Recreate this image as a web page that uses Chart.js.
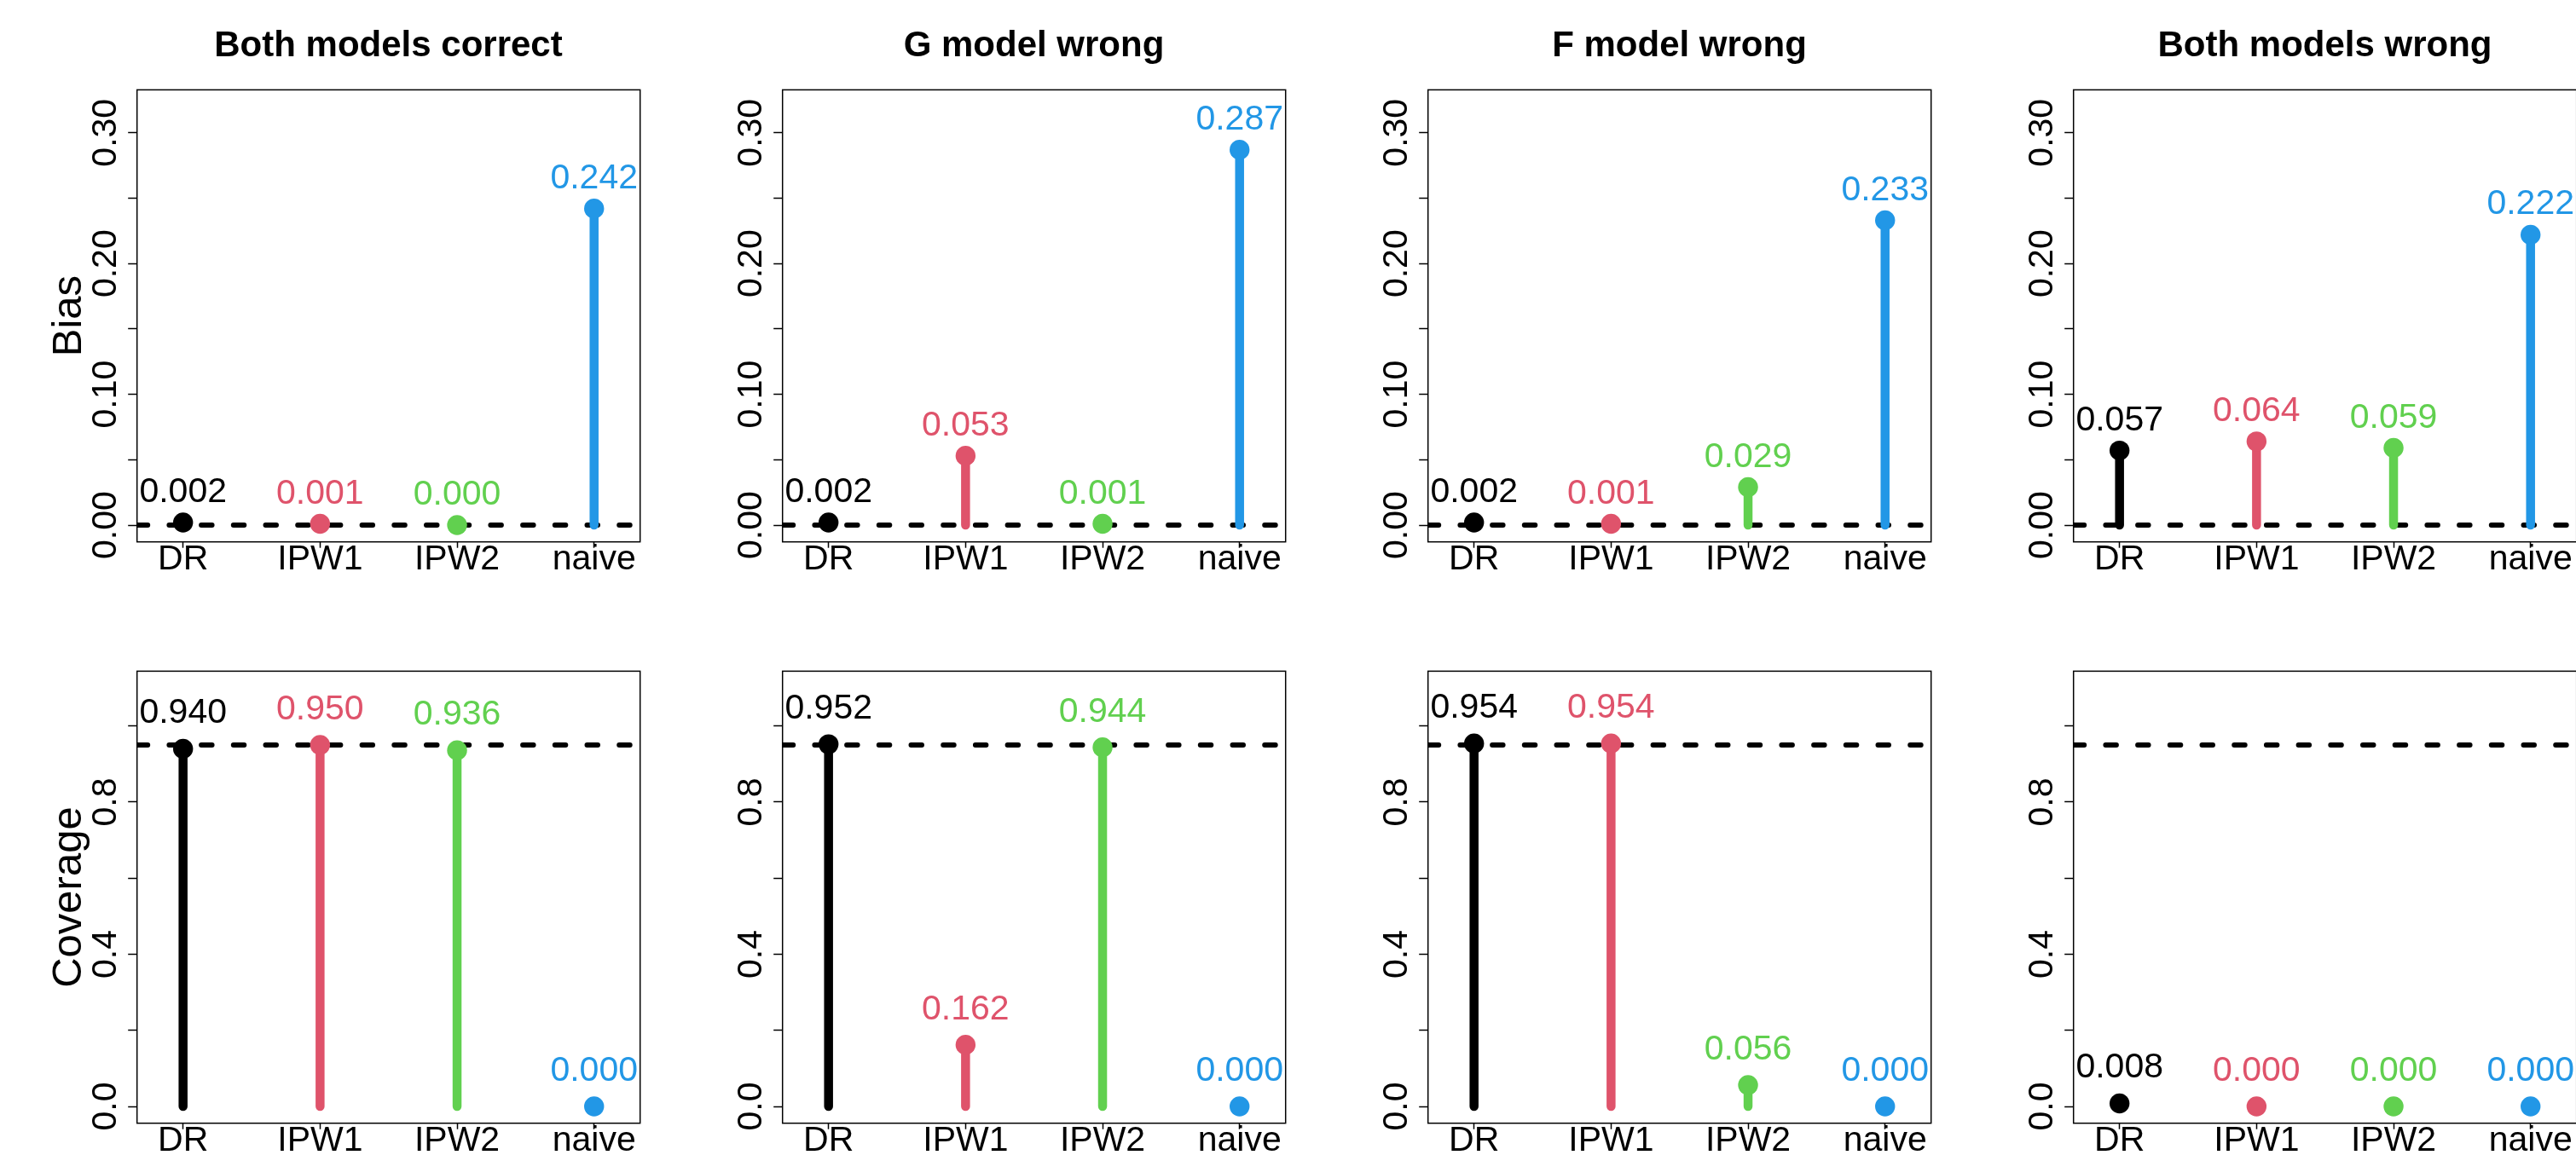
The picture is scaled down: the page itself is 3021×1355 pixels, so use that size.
<!DOCTYPE html>
<html>
<head>
<meta charset="utf-8">
<title>Bias and coverage</title>
<script src="https://cdn.jsdelivr.net/npm/chart.js@4.4.1/dist/chart.umd.min.js"></script>
<style>
  html, body { margin: 0; padding: 0; background: #fff; }
  #page { position: relative; width: 3021px; height: 1355px; overflow: hidden; background: #fff; }
  #page canvas { position: absolute; }
</style>
</head>
<body>
<div id="page"></div>
<script>
// panels and methods
const scenarios = ['Both models correct', 'G model wrong', 'F model wrong', 'Both models wrong'];
const methods = ['DR', 'IPW1', 'IPW2', 'naive'];
const methodColors = ['#000000', '#DF536B', '#61D04F', '#2297E6'];

// bias (top row)
const biasBothCorrect = [0.002, 0.001, 0.000, 0.242];
const biasGWrong      = [0.002, 0.053, 0.001, 0.287];
const biasFWrong      = [0.002, 0.001, 0.029, 0.233];
const biasBothWrong   = [0.057, 0.064, 0.059, 0.222];

// coverage (bottom row)
const covBothCorrect = [0.940, 0.950, 0.936, 0.000];
const covGWrong      = [0.952, 0.162, 0.944, 0.000];
const covFWrong      = [0.954, 0.954, 0.056, 0.000];
const covBothWrong   = [0.008, 0.000, 0.000, 0.000];

// axes
const biasTicks = [0, 0.1, 0.2, 0.3];
const biasTickLabels = ['0.00', '0.10', '0.20', '0.30'];
const covTicks = [0, 0.4, 0.8];
const covTickLabels = ['0.0', '0.4', '0.8'];
const biasRange = [0, 0.32];
const covRange = [0, 1.1];
const xRange = [0.8, 4.2];
const biasRef = 0;
const covRef = 0.95;

const FONT = "'Liberation Sans', Arial, Helvetica, sans-serif";
Chart.defaults.font.family = FONT;
Chart.defaults.color = '#000';

const PANEL_W = 757, ROW_H = 682, CANVAS_W = 911;
const BOX_LEFT = 160.7, BOX_RIGHT = 750.7, BOX_TOP = 105.4;

// R style axis limits (4% extension each side)
function extend(r) {
    const d = (r[1] - r[0]) * 0.04;
    return [r[0] - d, r[1] + d];
}

const rows = [
    { values: [biasBothCorrect, biasGWrong, biasFWrong, biasBothWrong], range: biasRange, step: 0.05,
      ticks: biasTicks, tickLabels: biasTickLabels, ref: biasRef, ylab: 'Bias', gap: 24, tickPad: -14.5, title: true },
    { values: [covBothCorrect, covGWrong, covFWrong, covBothWrong], range: covRange, step: 0.2,
      ticks: covTicks, tickLabels: covTickLabels, ref: covRef, ylab: 'Coverage', gap: 30, tickPad: -3.2, title: false }
];

// box around plot region + value labels above the points
const lollipopText = {
    id: 'lollipopText',
    afterDatasetsDraw(chart, args, opts) {
        const ctx = chart.ctx, a = chart.chartArea;
        const xs = chart.scales.x, ys = chart.scales.y;
        ctx.save();
        ctx.lineWidth = 1.5;
        ctx.strokeStyle = '#000';
        ctx.strokeRect(a.left, a.top, a.right - a.left, a.bottom - a.top);
        ctx.font = '41px ' + FONT;
        ctx.textAlign = 'center';
        ctx.textBaseline = 'alphabetic';
        opts.values.forEach((v, i) => {
            ctx.fillStyle = methodColors[i];
            ctx.fillText(v.toFixed(3), xs.getPixelForValue(i + 1), ys.getPixelForValue(v) - opts.gap);
        });
        ctx.restore();
    }
};

function makeChart(row, rowIdx, col) {
    const canvas = document.createElement('canvas');
    canvas.width = CANVAS_W;
    canvas.height = ROW_H;
    canvas.style.left = (col * PANEL_W) + 'px';
    canvas.style.top = (rowIdx * ROW_H) + 'px';
    canvas.style.width = CANVAS_W + 'px';
    canvas.style.height = ROW_H + 'px';
    document.getElementById('page').appendChild(canvas);

    const vals = row.values[col];
    const yLim = extend(row.range);
    const xLim = extend(xRange);

    const datasets = methods.map((m, i) => ({
        label: m,
        data: [{ x: i + 1, y: 0 }, { x: i + 1, y: vals[i] }],
        borderColor: methodColors[i],
        backgroundColor: methodColors[i],
        borderWidth: 10.5,
        borderCapStyle: 'round',
        pointRadius: [0, 11.7],
        pointHoverRadius: [0, 11.7],
        pointBorderWidth: 0,
        pointBackgroundColor: methodColors[i],
        fill: false,
        order: 1
    }));
    datasets.push({
        label: 'ref',
        data: [{ x: xLim[0], y: row.ref }, { x: xLim[1], y: row.ref }],
        borderColor: '#000',
        borderWidth: 6,
        borderDash: [12.5, 25.2],
        borderCapStyle: 'round',
        pointRadius: 0,
        fill: false,
        clip: 0,
        order: 2
    });

    const tickGrid = len => ({ drawOnChartArea: false, drawTicks: true, tickLength: len, tickWidth: 1.5, tickColor: '#000' });

    return new Chart(canvas.getContext('2d'), {
        type: 'line',
        data: { datasets: datasets },
        options: {
            responsive: false,
            animation: false,
            devicePixelRatio: 1,
            events: [],
            layout: { padding: { left: 0, right: 0, top: row.title ? 0 : BOX_TOP, bottom: 0 } },
            plugins: {
                legend: { display: false },
                tooltip: { enabled: false },
                title: {
                    display: row.title,
                    text: scenarios[col],
                    color: '#000',
                    font: { size: 42, weight: 'bold', lineHeight: 1.2 },
                    padding: { top: 28.8, bottom: 26.2 }
                },
                lollipopText: { values: vals, gap: row.gap }
            },
            scales: {
                x: {
                    type: 'linear',
                    min: xLim[0],
                    max: xLim[1],
                    afterFit: s => { s.height = 46.3; },
                    border: { display: false },
                    grid: tickGrid(7),
                    ticks: {
                        stepSize: 1,
                        includeBounds: false,
                        autoSkip: false,
                        maxRotation: 0,
                        color: '#000',
                        font: { size: 41 },
                        padding: -10.8,
                        callback: v => methods[Math.round(v) - 1] || ''
                    }
                },
                y: {
                    type: 'linear',
                    min: yLim[0],
                    max: yLim[1],
                    afterFit: s => { s.width = BOX_LEFT; },
                    border: { display: false },
                    grid: tickGrid(10.5),
                    ticks: {
                        stepSize: row.step,
                        includeBounds: false,
                        autoSkip: false,
                        minRotation: 90,
                        maxRotation: 90,
                        crossAlign: 'center',
                        padding: row.tickPad,
                        color: '#000',
                        font: { size: 41 },
                        callback: v => {
                            const k = row.ticks.findIndex(t => Math.abs(t - v) < 1e-9);
                            return k >= 0 ? row.tickLabels[k] : '';
                        }
                    },
                    title: {
                        display: col === 0,
                        text: row.ylab,
                        color: '#000',
                        font: { size: 49 },
                        padding: { top: 51.6, bottom: 0 }
                    }
                },
                // empty right margin so the title centres over the plot box
                yRight: {
                    type: 'linear',
                    position: 'right',
                    display: true,
                    afterFit: s => { s.width = CANVAS_W - BOX_RIGHT; },
                    border: { display: false },
                    grid: { display: false },
                    ticks: { display: false }
                }
            }
        },
        plugins: [lollipopText]
    });
}

rows.forEach((row, r) => {
    scenarios.forEach((s, c) => makeChart(row, r, c));
});
</script>
</body>
</html>
